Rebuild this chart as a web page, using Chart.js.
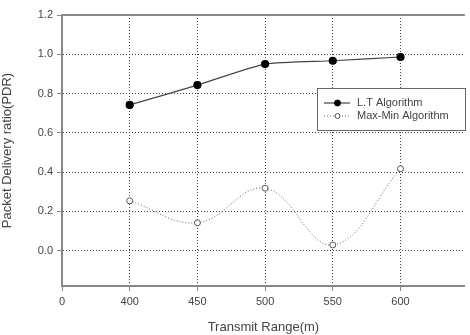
<!DOCTYPE html>
<html>
<head>
<meta charset="utf-8">
<script src="https://cdn.jsdelivr.net/npm/chart.js@4"></script>
<style>
  html, body { margin: 0; padding: 0; background: #fff; }
  #wrap { width: 470px; height: 335px; }
</style>
</head>
<body>
<div id="wrap"><canvas id="myChart"></canvas></div>
<script>
const tickLabels = ["0", "400", "450", "500", "550", "600"];
const ranges = [400, 450, 500, 550, 600];
const ltValues = [0.742, 0.843, 0.95, 0.967, 0.986];
const maxMinValues = [0.254, 0.142, 0.318, 0.029, 0.417];
const yTicks = [0, 0.2, 0.4, 0.6, 0.8, 1.0, 1.2];

const textColor = "#444";
const fontFamily = "'Liberation Sans', Arial, sans-serif";

function toPoints(values) {
    return ranges.map((r, i) => ({ x: tickLabels.indexOf(String(r)), y: values[i] }));
}

// top border + legend box inside the plot
const framePlugin = {
    id: "frame",
    afterDraw(chart) {
        const { ctx, chartArea } = chart;
        ctx.save();
        ctx.strokeStyle = "#888";
        ctx.lineWidth = 2;
        ctx.beginPath();
        ctx.moveTo(chartArea.left, chartArea.top);
        ctx.lineTo(chartArea.right, chartArea.top);
        ctx.stroke();

        // legend
        const bx = 317.5, by = 88.5, bw = 148, bh = 42;
        ctx.fillStyle = "#fff";
        ctx.fillRect(bx, by, bw, bh);
        ctx.strokeStyle = "#666";
        ctx.lineWidth = 1;
        ctx.strokeRect(bx, by, bw, bh);

        ctx.font = "11px " + fontFamily;
        ctx.textBaseline = "middle";
        chart.data.datasets.forEach((ds, i) => {
            const y = 103 + i * 13;
            ctx.strokeStyle = ds.borderColor;
            ctx.lineWidth = ds.borderWidth;
            ctx.setLineDash(ds.borderDash || []);
            ctx.beginPath();
            ctx.moveTo(324, y);
            ctx.lineTo(350, y);
            ctx.stroke();
            ctx.setLineDash([]);
            ctx.beginPath();
            ctx.arc(337.5, y, ds.pointRadius - 0.5, 0, Math.PI * 2);
            ctx.fillStyle = ds.pointBackgroundColor;
            ctx.fill();
            ctx.strokeStyle = ds.pointBorderColor;
            ctx.lineWidth = 1;
            ctx.stroke();
            ctx.fillStyle = textColor;
            ctx.fillText(ds.label, 357, y);
        });
        ctx.restore();
    }
};

const data = {
    datasets: [{
        label: "L.T Algorithm",
        data: toPoints(ltValues),
        borderColor: "#444",
        borderWidth: 1.2,
        pointRadius: 3.5,
        pointBackgroundColor: "#000",
        pointBorderColor: "#000",
        tension: 0.2,
    }, {
        label: "Max-Min Algorithm",
        data: toPoints(maxMinValues),
        borderColor: "#666",
        borderWidth: 1,
        borderDash: [1, 2],
        pointRadius: 3,
        pointBackgroundColor: "#fff",
        pointBorderColor: "#555",
        tension: 0.4,
    }],
};

const config = {
    type: "line",
    data: data,
    plugins: [framePlugin],
    options: {
        responsive: true,
        maintainAspectRatio: false,
        animation: false,
        layout: { padding: { top: 15, right: 0, left: 0, bottom: 0 } },
        scales: {
            x: {
                type: "linear",
                min: 0,
                max: 5.95,
                afterBuildTicks: (scale) => {
                    scale.ticks = tickLabels.map((l, i) => ({ value: i }));
                },
                afterFit: (scale) => { scale.height = 49; },
                grid: {
                    color: (c) => c.index === 0 ? "rgba(0,0,0,0)" : "#444",
                    tickColor: "#888",
                    tickLength: 5,
                    tickBorderDash: [],
                },
                border: { color: "#888", width: 2, dash: [1, 2] },
                ticks: {
                    color: textColor,
                    font: { size: 11, family: fontFamily },
                    padding: 4,
                    maxRotation: 0,
                    callback: (v) => tickLabels[v],
                },
                title: {
                    display: true,
                    text: "Transmit Range(m)",
                    color: textColor,
                    font: { size: 13, family: fontFamily },
                    padding: { top: 4, bottom: 0 },
                },
            },
            y: {
                min: -0.18,
                max: 1.2,
                afterBuildTicks: (scale) => {
                    scale.ticks = yTicks.map((v) => ({ value: v }));
                },
                afterFit: (scale) => { scale.width = 62; },
                grid: {
                    color: (c) => c.tick && c.tick.value === 1.2 ? "rgba(0,0,0,0)" : "#444",
                    tickColor: "#888",
                    tickLength: 5,
                    tickBorderDash: [],
                },
                border: { color: "#888", width: 2, dash: [1, 2] },
                ticks: {
                    color: textColor,
                    font: { size: 11, family: fontFamily },
                    padding: 4,
                    callback: (v) => v.toFixed(1),
                },
                title: {
                    display: true,
                    text: "Packet Delivery ratio(PDR)",
                    color: textColor,
                    font: { size: 13, family: fontFamily },
                    padding: { top: 0, bottom: 4 },
                },
            },
        },
        plugins: {
            legend: { display: false },
            tooltip: { enabled: false },
        },
        hover: { mode: null },
    }
};

const myChart = new Chart(document.getElementById("myChart"), config);
</script>
</body>
</html>
